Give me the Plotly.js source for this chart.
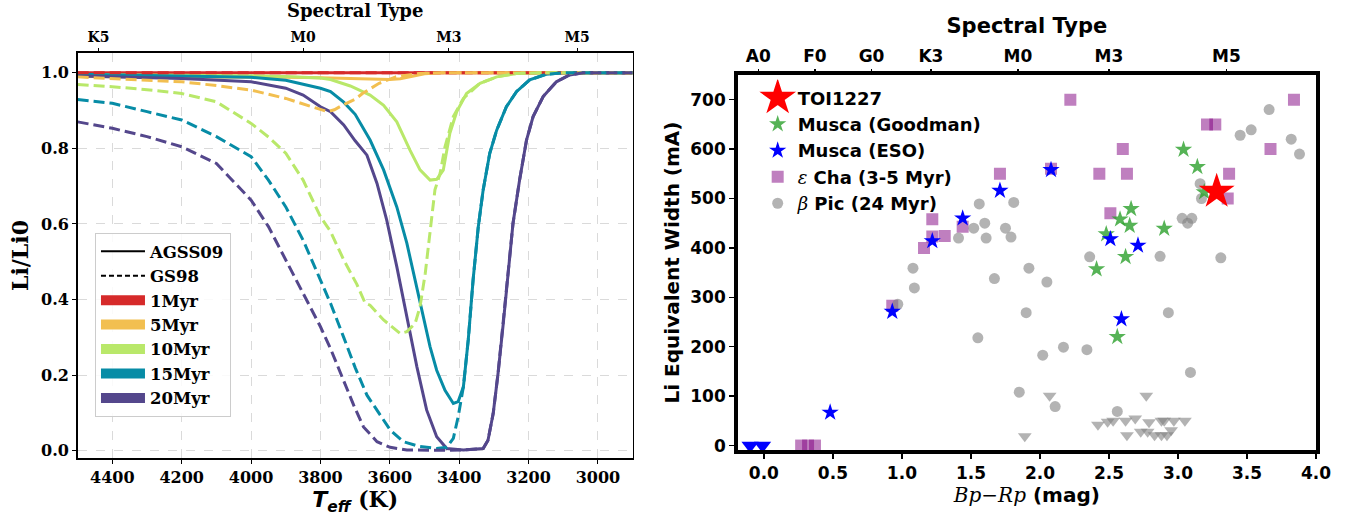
<!DOCTYPE html>
<html>
<head>
<meta charset="utf-8">
<script src="https://cdn.plot.ly/plotly-3.0.1.min.js"></script>
<style>
  html, body { margin: 0; padding: 0; background: #fff; }
  #chart { width: 1353px; height: 516px; }
</style>
</head>
<body>
<div id="chart"></div>
<script>
// ---------------- Left panel: Li depletion curves ----------------
const ages = ['1Myr', '5Myr', '10Myr', '15Myr', '20Myr'];
const ageColors = ['#d62a2a', '#f2bf50', '#b9e86a', '#078ca6', '#54478c'];

// AGSS09 (solid)
const teff_AGSS_1 = [4500, 4000, 3600, 3500, 3200, 2900];
const li_AGSS_1   = [1.0, 1.0, 0.999, 0.999, 1.0, 1.0];
const teff_AGSS_5 = [4500, 4200, 4000, 3900, 3800, 3700, 3650, 3600, 3570, 3540, 3500, 3450, 3300, 2900];
const li_AGSS_5   = [0.99, 0.99, 0.989, 0.988, 0.987, 0.985, 0.983, 0.982, 0.984, 0.99, 0.997, 1.0, 1.0, 1.0];
const teff_AGSS_10 = [4500, 4300, 4100, 4000, 3900, 3800, 3771, 3714, 3657, 3618, 3580, 3542, 3513, 3484, 3465, 3446, 3427, 3407, 3379, 3340, 3292, 3235, 3150, 2900];
const li_AGSS_10   = [0.995, 0.994, 0.993, 0.992, 0.99, 0.986, 0.982, 0.965, 0.941, 0.914, 0.87, 0.795, 0.743, 0.716, 0.718, 0.742, 0.84, 0.897, 0.945, 0.972, 0.989, 0.998, 1.0, 1.0];
const teff_AGSS_15 = [4500, 4200, 4000, 3900, 3800, 3771, 3750, 3733, 3700, 3657, 3618, 3580, 3551, 3522, 3503, 3484, 3465, 3441, 3417, 3403, 3388, 3374, 3360, 3345, 3331, 3312, 3292, 3264, 3235, 3197, 3149, 3100, 2900];
const li_AGSS_15   = [0.996, 0.992, 0.988, 0.98, 0.959, 0.95, 0.935, 0.922, 0.89, 0.822, 0.743, 0.645, 0.549, 0.434, 0.354, 0.275, 0.213, 0.16, 0.125, 0.13, 0.169, 0.293, 0.452, 0.593, 0.69, 0.787, 0.848, 0.91, 0.95, 0.981, 0.996, 1.0, 1.0];
const teff_AGSS_20 = [4500, 4200, 4000, 3900, 3850, 3800, 3771, 3733, 3700, 3666, 3637, 3609, 3580, 3551, 3522, 3494, 3465, 3436, 3388, 3331, 3317, 3302, 3288, 3273, 3259, 3245, 3226, 3206, 3187, 3158, 3120, 3082, 3043, 2900];
const li_AGSS_20   = [0.991, 0.985, 0.976, 0.959, 0.941, 0.91, 0.897, 0.862, 0.82, 0.782, 0.707, 0.61, 0.487, 0.354, 0.222, 0.108, 0.037, 0.006, 0.002, 0.006, 0.028, 0.099, 0.205, 0.337, 0.469, 0.601, 0.716, 0.822, 0.884, 0.937, 0.976, 0.994, 1.0, 1.0];

// GS98 (dashed)
const teff_GS98_1 = [4500, 4000, 3500, 3000, 2900];
const li_GS98_1   = [1.0, 1.0, 1.0, 1.0, 1.0];
const teff_GS98_5 = [4500, 4400, 4200, 4100, 4000, 3900, 3850, 3800, 3780, 3760, 3737, 3700, 3679, 3631, 3583, 3540, 3516, 3450, 2900];
const li_GS98_5   = [0.989, 0.985, 0.976, 0.966, 0.954, 0.932, 0.917, 0.902, 0.897, 0.902, 0.914, 0.93, 0.945, 0.972, 0.989, 0.995, 0.998, 1.0, 1.0];
const teff_GS98_10 = [4500, 4400, 4300, 4200, 4100, 4000, 3950, 3900, 3850, 3800, 3771, 3733, 3695, 3671, 3657, 3618, 3570, 3551, 3527, 3513, 3498, 3484, 3470, 3455, 3441, 3417, 3388, 3340, 3292, 3235, 3150, 2900];
const li_GS98_10   = [0.969, 0.963, 0.955, 0.945, 0.923, 0.866, 0.83, 0.787, 0.716, 0.619, 0.58, 0.505, 0.44, 0.39, 0.385, 0.346, 0.31, 0.315, 0.337, 0.381, 0.469, 0.584, 0.69, 0.734, 0.804, 0.884, 0.932, 0.972, 0.989, 0.998, 1.0, 1.0];
const teff_GS98_15 = [4500, 4400, 4300, 4200, 4100, 4000, 3950, 3900, 3850, 3800, 3771, 3733, 3700, 3666, 3637, 3599, 3561, 3513, 3465, 3436, 3417, 3403, 3388, 3374, 3360, 3345, 3331, 3312, 3292, 3264, 3235, 3197, 3149, 3100, 2900];
const li_GS98_15   = [0.929, 0.919, 0.897, 0.875, 0.831, 0.778, 0.716, 0.645, 0.557, 0.451, 0.39, 0.30, 0.22, 0.147, 0.108, 0.055, 0.024, 0.011, 0.006, 0.009, 0.033, 0.09, 0.169, 0.293, 0.452, 0.593, 0.69, 0.787, 0.848, 0.91, 0.95, 0.981, 0.996, 1.0, 1.0];
const teff_GS98_20 = [4500, 4400, 4300, 4200, 4100, 4000, 3950, 3900, 3850, 3800, 3771, 3750, 3733, 3704, 3676, 3637, 3599, 3551, 3500, 3450, 3388, 3331, 3317, 3302, 3288, 3273, 3259, 3245, 3226, 3206, 3187, 3158, 3120, 3082, 3043, 2900];
const li_GS98_20   = [0.870, 0.853, 0.831, 0.804, 0.76, 0.663, 0.593, 0.504, 0.416, 0.328, 0.27, 0.22, 0.185, 0.12, 0.063, 0.024, 0.009, 0.002, 0.001, 0.001, 0.002, 0.006, 0.028, 0.099, 0.205, 0.337, 0.469, 0.601, 0.716, 0.822, 0.884, 0.937, 0.976, 0.994, 1.0, 1.0];

const teffAGSS = [teff_AGSS_1, teff_AGSS_5, teff_AGSS_10, teff_AGSS_15, teff_AGSS_20];
const liAGSS   = [li_AGSS_1, li_AGSS_5, li_AGSS_10, li_AGSS_15, li_AGSS_20];
const teffGS98 = [teff_GS98_1, teff_GS98_5, teff_GS98_10, teff_GS98_15, teff_GS98_20];
const liGS98   = [li_GS98_1, li_GS98_5, li_GS98_10, li_GS98_15, li_GS98_20];

const leftTeffTicks = [4400, 4200, 4000, 3800, 3600, 3400, 3200, 3000];
const leftLiTicks = [0.0, 0.2, 0.4, 0.6, 0.8, 1.0];
const leftSpTVals = [4440, 3850, 3430, 3060];
const leftSpTText = ['K5', 'M0', 'M3', 'M5'];

// ---------------- Right panel: Li EW vs Bp-Rp ----------------
const toi_bprp = [3.28];
const toi_ew   = [514];

const goodman_bprp = [3.04, 3.14, 3.19, 2.66, 2.58, 2.65, 2.48, 2.90, 2.62, 2.41, 2.56];
const goodman_ew   = [599, 564, 513, 479, 458, 445, 428, 439, 382, 357, 220];

const eso_bprp = [1.71, 1.44, 1.22, 2.08, 2.51, 2.71, 0.93, 0.48, 2.59];
const eso_ew   = [516, 460, 414, 558, 418, 405, 271, 67, 256];
const eso_lim_bprp = [-0.10, -0.01];
const eso_lim_ew   = [0, 0];

const echa_bprp = [2.22, 3.21, 3.27, 3.84, 3.67, 2.60, 1.71, 2.08, 2.43, 2.63, 3.37, 3.36, 2.51, 1.22, 1.22, 1.31, 1.44, 1.16, 0.93, 0.27, 0.32, 0.37];
const echa_ew   = [700, 650, 650, 700, 600, 600, 550, 560, 550, 550, 550, 500, 470, 458, 423, 424, 443, 400, 283, 0, 0, 0];

const bpic_bprp = [1.56, 1.81, 1.41, 1.52, 1.60, 1.61, 1.75, 1.79, 3.66, 3.53, 3.45, 3.82, 3.88, 3.16, 3.17, 3.03, 3.10, 3.07, 2.36, 2.87, 3.31, 1.08, 1.09, 0.97, 1.67, 1.92, 1.90, 1.55, 1.85, 2.05, 2.02, 2.17, 2.34, 2.93, 3.09, 2.11, 2.56];
const bpic_ew   = [489, 492, 420, 440, 450, 420, 440, 422, 680, 639, 628, 620, 590, 530, 500, 460, 460, 450, 382, 383, 380, 359, 319, 286, 338, 359, 269, 218, 108, 331, 183, 199, 194, 269, 148, 79, 69];
const bpic_lim_bprp = [1.89, 2.07, 2.77, 2.42, 2.49, 2.53, 2.62, 2.69, 2.63, 2.73, 2.79, 2.78, 2.83, 2.88, 2.90, 2.88, 2.92, 2.95, 2.97, 3.05];
const bpic_lim_ew   = [19, 101, 101, 42, 48, 50, 50, 55, 21, 28, 47, 28, 21, 50, 50, 21, 21, 31, 50, 50];

const rightSpTVals = [-0.04, 0.37, 0.78, 1.21, 1.84, 2.50, 3.35];
const rightSpTText = ['A0', 'F0', 'G0', 'K3', 'M0', 'M3', 'M5'];

// ---------------- Traces ----------------
const traces = [];
const DASH = '11px,5px';
for (let i = 0; i < ages.length; i++) {
  traces.push({
    x: teffAGSS[i], y: liAGSS[i], xaxis: 'x', yaxis: 'y', mode: 'lines',
    line: {color: ageColors[i], width: 3}, showlegend: false, hoverinfo: 'skip'
  });
}
for (let i = 0; i < ages.length; i++) {
  traces.push({
    x: teffGS98[i], y: liGS98[i], xaxis: 'x', yaxis: 'y', mode: 'lines',
    line: {color: ageColors[i], width: 3, dash: DASH}, showlegend: false, hoverinfo: 'skip'
  });
}
// legend entries (left)
traces.push({x: [null], y: [null], xaxis: 'x', yaxis: 'y', mode: 'lines', name: 'AGSS09',
  line: {color: 'black', width: 2}, legend: 'legend', legendrank: 1});
traces.push({x: [null], y: [null], xaxis: 'x', yaxis: 'y', mode: 'lines', name: 'GS98',
  line: {color: 'black', width: 2, dash: '5px,3px'}, legend: 'legend', legendrank: 2});
for (let i = 0; i < ages.length; i++) {
  traces.push({x: [null], y: [null], xaxis: 'x', yaxis: 'y', mode: 'lines', name: ages[i],
    line: {color: ageColors[i], width: 10}, legend: 'legend', legendrank: 3 + i});
}
// dummy for top axis of left panel
traces.push({x: [4500, 2900], y: [null, null], xaxis: 'x3', yaxis: 'y', mode: 'markers',
  showlegend: false, hoverinfo: 'skip'});

// right panel
traces.push({x: echa_bprp, y: echa_ew, xaxis: 'x2', yaxis: 'y2', mode: 'markers',
  name: '<span style="font-family:DejaVu Serif;font-style:italic;font-weight:normal">ε</span> Cha (3-5 Myr)',
  marker: {symbol: 'square', size: 12, color: 'purple', opacity: 0.5},
  legend: 'legend2', legendrank: 4});
traces.push({x: bpic_bprp, y: bpic_ew, xaxis: 'x2', yaxis: 'y2', mode: 'markers',
  name: '<span style="font-family:DejaVu Serif;font-style:italic;font-weight:normal">β</span> Pic (24 Myr)',
  marker: {symbol: 'circle', size: 11, color: 'gray', opacity: 0.6},
  legend: 'legend2', legendrank: 5});
traces.push({x: bpic_lim_bprp, y: bpic_lim_ew, xaxis: 'x2', yaxis: 'y2', mode: 'markers',
  marker: {symbol: 'triangle-down', size: 12, color: 'gray', opacity: 0.6},
  showlegend: false});
traces.push({x: goodman_bprp, y: goodman_ew, xaxis: 'x2', yaxis: 'y2', mode: 'markers',
  name: 'Musca (Goodman)',
  marker: {symbol: 'star', size: 13, color: '#2ca02c', opacity: 0.8},
  legend: 'legend2', legendrank: 2});
traces.push({x: eso_bprp, y: eso_ew, xaxis: 'x2', yaxis: 'y2', mode: 'markers',
  name: 'Musca (ESO)',
  marker: {symbol: 'star', size: 13, color: 'blue'},
  legend: 'legend2', legendrank: 3});
traces.push({x: eso_lim_bprp, y: eso_lim_ew, xaxis: 'x2', yaxis: 'y2', mode: 'markers',
  marker: {symbol: 'triangle-down', size: 15, color: 'blue'}, showlegend: false});
traces.push({x: toi_bprp, y: toi_ew, xaxis: 'x2', yaxis: 'y2', mode: 'markers',
  marker: {symbol: 'star', size: 27, color: 'red'}, showlegend: false});
// legend entry for TOI1227 (bigger legend symbol via outline)
traces.push({x: [null], y: [null], xaxis: 'x2', yaxis: 'y2', mode: 'markers',
  name: 'TOI1227',
  marker: {symbol: 'star', size: 16, color: 'red', line: {color: 'red', width: 5}},
  legend: 'legend2', legendrank: 1});
traces.push({x: [-0.19, 4.0], y: [null, null], xaxis: 'x4', yaxis: 'y2', mode: 'markers',
  showlegend: false, hoverinfo: 'skip'});

const serif = 'DejaVu Serif';
const sans = 'DejaVu Sans';

const layout = {
  width: 1353, height: 516,
  margin: {l: 0, r: 0, t: 0, b: 0},
  paper_bgcolor: 'white', plot_bgcolor: 'white',
  showlegend: true,
  xaxis: {
    domain: [0.0574, 0.4676], range: [4500, 2900], anchor: 'y',
    tickvals: leftTeffTicks, ticks: 'outside', ticklen: 4, tickwidth: 1, tickcolor: 'black',
    showline: true, mirror: true, linecolor: 'black', linewidth: 1.5,
    showgrid: true, gridcolor: '#dadada', griddash: 'dash', gridwidth: 1, zeroline: false,
    tickfont: {family: serif, size: 16, weight: 'bold', color: 'black'},
    title: {text: '<span style="font-family:DejaVu Sans;font-style:italic">T<sub>eff</sub></span> (K)',
      font: {family: serif, size: 22, weight: 'bold', color: 'black'}},
    automargin: false
  },
  yaxis: {
    domain: [0.1118, 0.8979], range: [-0.02, 1.053], anchor: 'x',
    tickvals: leftLiTicks, tickformat: '.1f', ticks: 'outside', ticklen: 4, tickwidth: 1, tickcolor: 'black',
    showline: true, mirror: true, linecolor: 'black', linewidth: 1.5,
    showgrid: true, gridcolor: '#dadada', griddash: 'dash', gridwidth: 1, zeroline: false,
    tickfont: {family: serif, size: 16, weight: 'bold', color: 'black'},
    title: {text: 'Li/Li0', standoff: 6, font: {family: serif, size: 22, weight: 'bold', color: 'black'}},
    automargin: false
  },
  xaxis3: {
    overlaying: 'x', side: 'top', anchor: 'y', range: [4500, 2900],
    tickvals: leftSpTVals, ticktext: leftSpTText, ticks: 'outside', ticklen: 4, tickwidth: 1, tickcolor: 'black',
    showline: false, showgrid: false, zeroline: false,
    tickfont: {family: serif, size: 14, weight: 'bold', color: 'black'},
    title: {text: 'Spectral Type', font: {family: serif, size: 18, weight: 'bold', color: 'black'}},
    automargin: false
  },
  xaxis2: {
    domain: [0.5452, 0.9727], range: [-0.19, 4.0], anchor: 'y2',
    dtick: 0.5, tick0: 0, tickformat: '.1f', ticks: 'outside', ticklen: 5, tickwidth: 1.5, tickcolor: 'black',
    showline: true, mirror: true, linecolor: 'black', linewidth: 3.5,
    showgrid: false, zeroline: false,
    tickfont: {family: sans, size: 17, weight: 'bold', color: 'black'},
    title: {text: '<span style="font-family:DejaVu Serif;font-style:italic;font-weight:normal">Bp−Rp</span> (mag)',
      standoff: 4, font: {family: sans, size: 20, weight: 'bold', color: 'black'}},
    automargin: false
  },
  yaxis2: {
    domain: [0.1279, 0.8547], range: [-9, 750], anchor: 'x2',
    dtick: 100, tick0: 0, ticks: 'outside', ticklen: 5, tickwidth: 1.5, tickcolor: 'black',
    showline: true, mirror: true, linecolor: 'black', linewidth: 3.5,
    showgrid: false, zeroline: false,
    tickfont: {family: sans, size: 17, weight: 'bold', color: 'black'},
    title: {text: 'Li Equivalent Width (mA)', standoff: 6, font: {family: sans, size: 20, weight: 'bold', color: 'black'}},
    automargin: false
  },
  xaxis4: {
    overlaying: 'x2', side: 'top', anchor: 'y2', range: [-0.19, 4.0],
    tickvals: rightSpTVals, ticktext: rightSpTText, ticks: 'outside', ticklen: 5, tickwidth: 1.5, tickcolor: 'black',
    showline: false, showgrid: false, zeroline: false,
    tickfont: {family: sans, size: 17, weight: 'bold', color: 'black'},
    title: {text: 'Spectral Type', standoff: 6, font: {family: sans, size: 21, weight: 'bold', color: 'black'}},
    automargin: false
  },
  legend: {
    x: 0.0702, y: 0.5484, xanchor: 'left', yanchor: 'top',
    bgcolor: 'rgba(255,255,255,0.85)', bordercolor: '#cccccc', borderwidth: 1,
    font: {family: serif, size: 16.5, weight: 'bold', color: 'black'},
    itemwidth: 44, traceorder: 'normal'
  },
  legend2: {
    x: 0.560, y: 0.846, xanchor: 'left', yanchor: 'top',
    bgcolor: 'rgba(0,0,0,0)', borderwidth: 0,
    font: {family: sans, size: 18, weight: 'bold', color: 'black'},
    traceorder: 'normal'
  }
};

Plotly.newPlot('chart', traces, layout, {displayModeBar: false, staticPlot: true});
</script>
</body>
</html>
